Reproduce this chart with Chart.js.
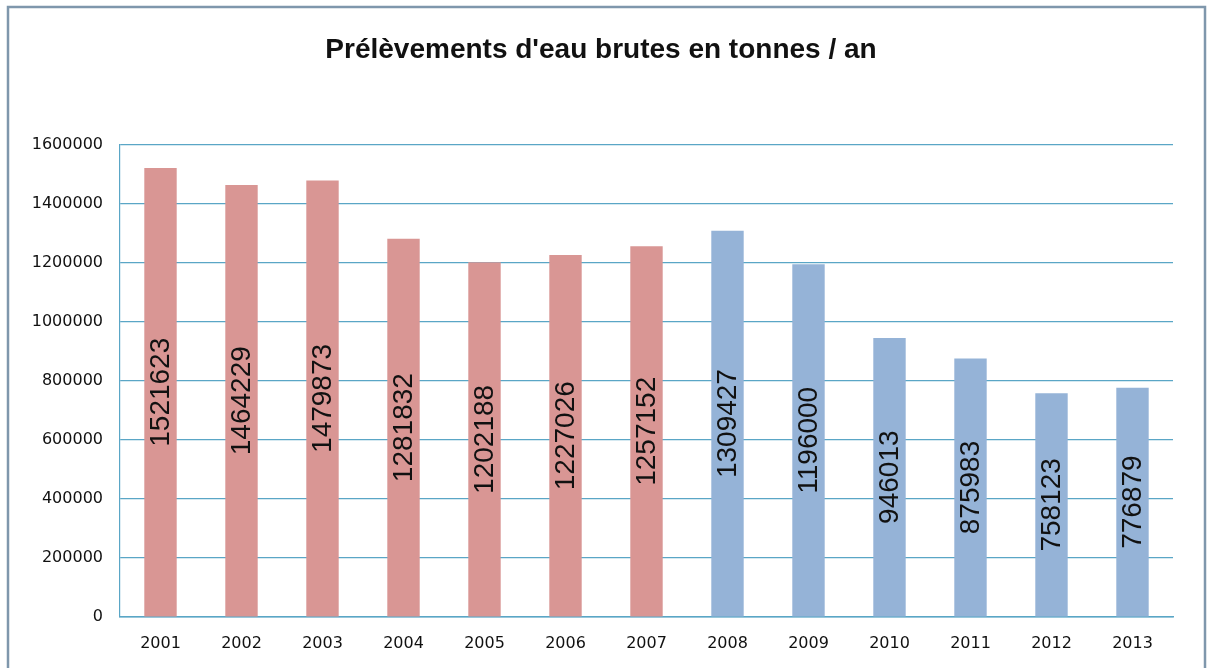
<!DOCTYPE html>
<html><head><meta charset="utf-8">
<script src="https://cdn.jsdelivr.net/npm/chart.js@4"></script>
<style>html,body{margin:0;padding:0;background:#fff;}#wrap{width:1209px;height:668px;position:relative;}</style>
</head><body><div id="wrap"><canvas id="c" width="1209" height="668"></canvas></div>
<script>
const titleText = "Prélèvements d'eau brutes en tonnes / an";
const years = ["2001","2002","2003","2004","2005","2006","2007","2008","2009","2010","2011","2012","2013"];
const values = [1521623,1464229,1479873,1281832,1202188,1227026,1257152,1309427,1196000,946013,875983,758123,776879];
const redColor = "#d99694", blueColor = "#95b3d7";
const barColors = years.map(y => (+y <= 2007 ? redColor : blueColor));
const yTicks = [0,200000,400000,600000,800000,1000000,1200000,1400000,1600000];

const framePlugin = {
  id: 'frame',
  beforeDraw(chart){
    const ctx = chart.ctx;
    ctx.save();
    ctx.fillStyle = '#fff';
    ctx.fillRect(0,0,chart.width,chart.height);
    ctx.strokeStyle = '#7f97ac';
    ctx.lineWidth = 2.5;
    ctx.strokeRect(8,7,1197,680);
    ctx.restore();
  },
  afterDraw(chart){
    const ctx = chart.ctx;
    ctx.save();
    ctx.font = 'bold 28px "Liberation Sans", Arial, sans-serif';
    ctx.fillStyle = '#111';
    ctx.textAlign = 'center';
    ctx.textBaseline = 'middle';
    ctx.fillText(titleText, 601, 50);
    ctx.restore();
  }
};
const labelPlugin = {
  id: 'vlabels',
  afterDatasetsDraw(chart){
    const ctx = chart.ctx;
    const meta = chart.getDatasetMeta(0);
    ctx.save();
    ctx.font = '28px "Liberation Sans", Arial, sans-serif';
    ctx.fillStyle = '#111';
    ctx.textAlign = 'center';
    ctx.textBaseline = 'middle';
    meta.data.forEach((bar, i) => {
      const cy = (bar.y + bar.base) / 2;
      ctx.save();
      ctx.translate(bar.x + 1, cy);
      ctx.rotate(-Math.PI/2);
      ctx.fillText(String(values[i]), 0, 0);
      ctx.restore();
    });
    ctx.restore();
  }
};

new Chart(document.getElementById('c'), {
  type: 'bar',
  data: { labels: years, datasets: [{ data: values, backgroundColor: barColors, barPercentage: 0.4, categoryPercentage: 1.0 }] },
  options: {
    responsive: false, animation: false,
    layout: { padding: { left: 0, right: 36, top: 145, bottom: 0 } },
    plugins: {
      legend: { display: false }, tooltip: { enabled: false },
      title: { display: false }
    },
    scales: {
      x: {
        grid: { display: false, drawTicks: false },
        border: { display: true, color: '#5aa6c6', width: 1.5 },
        ticks: { color: '#111', font: { family: '"DejaVu Sans", sans-serif', size: 16 }, padding: 17, maxRotation: 0 },
        afterFit(s){ s.height = 51; }
      },
      y: {
        min: 0, max: 1600000,
        afterBuildTicks(s){ s.ticks = yTicks.map(v => ({ value: v })); },
        grid: { color: '#5aa6c6', lineWidth: 1.2, drawTicks: false },
        border: { display: true, color: '#5aa6c6', width: 1.2 },
        ticks: { color: '#111', font: { family: '"DejaVu Sans", sans-serif', size: 16 }, padding: 17, callback: v => String(v) },
        afterFit(s){ s.width = 120; }
      }
    }
  },
  plugins: [framePlugin, labelPlugin]
});
</script></body></html>
